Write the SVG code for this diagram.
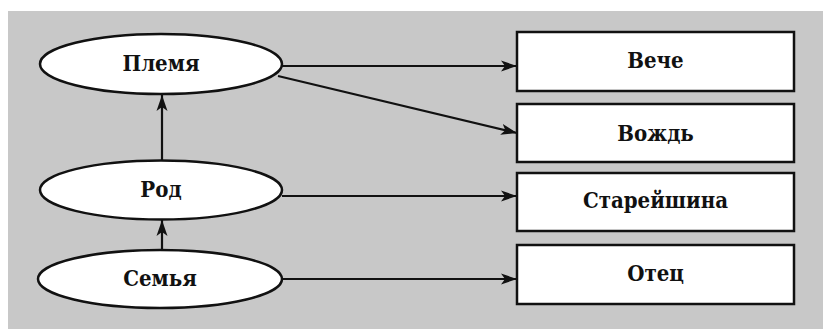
<svg xmlns="http://www.w3.org/2000/svg" width="823" height="329" viewBox="0 0 823 329">
<style>
.bg{fill:#c8c8c8}
.node{fill:#ffffff;stroke:#111;stroke-width:2.5}
.lbl{font-family:"DejaVu Serif Condensed","DejaVu Serif","Liberation Serif",serif;font-stretch:condensed;font-weight:bold;font-size:22px;fill:#111;text-anchor:middle}
.edge{stroke:#111;stroke-width:2.2;fill:none;marker-end:url(#arr)}
</style>
<defs>
<marker id="arr" markerUnits="userSpaceOnUse" markerWidth="18" markerHeight="12" refX="16" refY="6" orient="auto">
<path d="M0,0.5 L16,6 L0,11.5 L4,6 z" fill="#111"/>
</marker>
</defs>
<rect class="bg" x="8" y="11" width="815" height="318"/>
<g id="connectors">
<line class="edge" x1="282" y1="66" x2="517" y2="66"/>
<line class="edge" x1="278" y1="76" x2="517" y2="133"/>
<line class="edge" x1="282" y1="196" x2="517" y2="196"/>
<line class="edge" x1="282" y1="279" x2="517" y2="279"/>
<line class="edge" x1="162" y1="160" x2="162" y2="95"/>
<line class="edge" x1="162" y1="250" x2="162" y2="220"/>
</g>
<g id="plemya">
<ellipse class="node" cx="161" cy="64" rx="121" ry="30"/>
<text class="lbl" x="161" y="71">Племя</text>
</g>
<g id="rod">
<ellipse class="node" cx="161" cy="190" rx="121" ry="29.5"/>
<text class="lbl" x="161" y="197">Род</text>
</g>
<g id="semya">
<ellipse class="node" cx="160" cy="279" rx="122" ry="29"/>
<text class="lbl" x="160" y="286">Семья</text>
</g>
<g id="veche">
<rect class="node" x="517" y="32" width="277" height="59"/>
<text class="lbl" x="655.5" y="68">Вече</text>
</g>
<g id="vozhd">
<rect class="node" x="517" y="104" width="277" height="58"/>
<text class="lbl" x="655.5" y="141">Вождь</text>
</g>
<g id="stareyshina">
<rect class="node" x="517" y="173" width="277" height="58"/>
<text class="lbl" x="655.5" y="208">Старейшина</text>
</g>
<g id="otets">
<rect class="node" x="517" y="245" width="277" height="59"/>
<text class="lbl" x="655.5" y="281">Отец</text>
</g>
</svg>
